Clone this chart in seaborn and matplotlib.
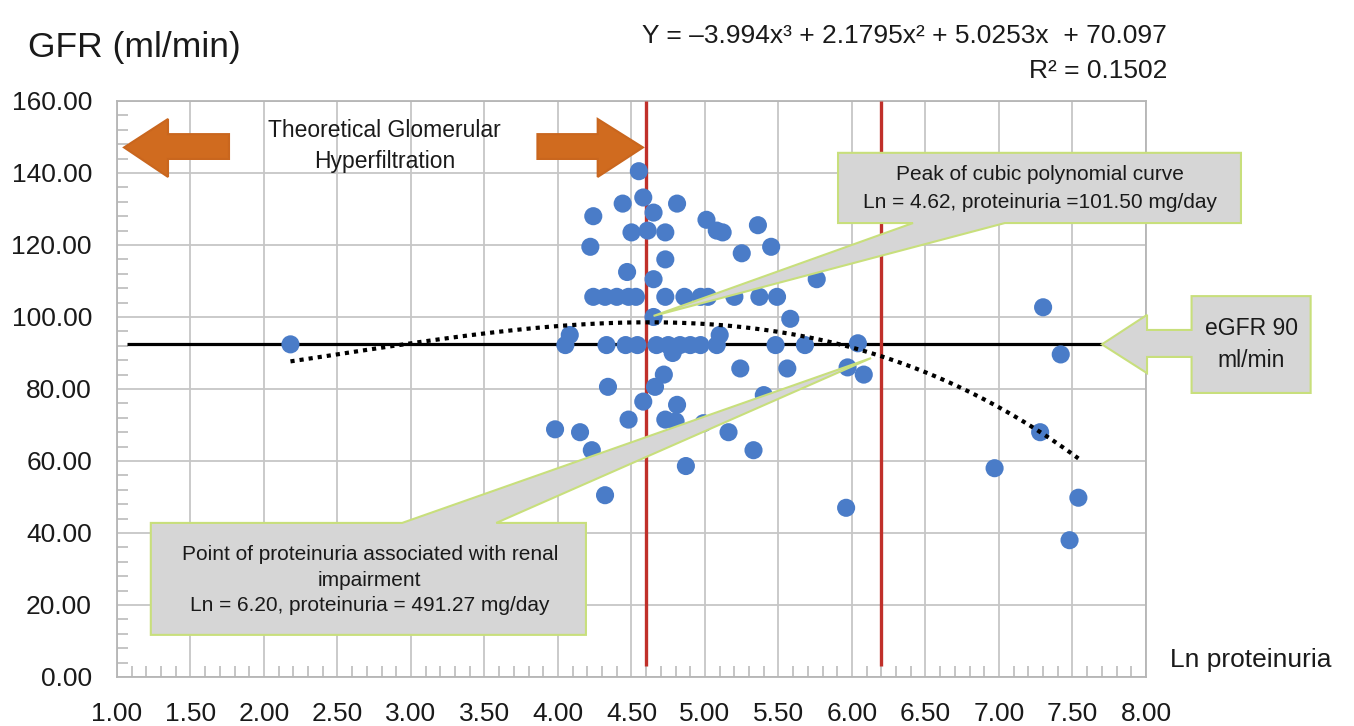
import numpy as np
import pandas as pd
import matplotlib
matplotlib.use("Agg")
import matplotlib.pyplot as plt
from matplotlib.patches import Polygon
import seaborn as sns

# ---- data ----
ln_proteinuria = [2.18, 3.98, 4.05, 4.08, 4.15, 4.22, 4.23, 4.24, 4.24, 4.32,
                  4.32, 4.33, 4.34, 4.40, 4.44, 4.46, 4.47, 4.48, 4.48, 4.50,
                  4.53, 4.54, 4.55, 4.58, 4.58, 4.61, 4.65, 4.65, 4.65, 4.66,
                  4.67, 4.72, 4.73, 4.73, 4.73, 4.73, 4.75, 4.78, 4.80, 4.81,
                  4.81, 4.83, 4.86, 4.87, 4.90, 4.97, 4.97, 4.99, 5.01, 5.02,
                  5.08, 5.08, 5.10, 5.12, 5.16, 5.20, 5.24, 5.25, 5.33, 5.36,
                  5.37, 5.40, 5.45, 5.48, 5.49, 5.56, 5.58, 5.68, 5.76, 5.96,
                  5.97, 6.04, 6.08, 6.97, 7.28, 7.30, 7.42, 7.48, 7.54]
gfr = [92.4, 68.8, 92.2, 95.0, 68.0, 119.5, 63.0, 128.0, 105.6, 50.5,
       105.6, 92.2, 80.6, 105.6, 131.5, 92.2, 112.5, 105.6, 71.5, 123.5,
       105.6, 92.2, 140.5, 133.2, 76.5, 124.0, 129.0, 110.5, 100.0, 80.6,
       92.2, 84.0, 123.5, 116.0, 105.6, 71.5, 92.2, 90.0, 71.0, 131.5,
       75.6, 92.2, 105.6, 58.6, 92.2, 92.2, 105.6, 70.5, 127.0, 105.6,
       92.2, 124.0, 95.0, 123.5, 68.0, 105.6, 85.7, 117.7, 63.0, 125.5,
       105.6, 78.3, 119.5, 92.2, 105.6, 85.7, 99.5, 92.2, 110.5, 47.0,
       86.0, 92.7, 84.0, 58.0, 68.0, 102.7, 89.6, 38.0, 49.8]

x_ticks = [1.00, 1.50, 2.00, 2.50, 3.00, 3.50, 4.00, 4.50, 5.00, 5.50, 6.00, 6.50, 7.00, 7.50, 8.00]
y_ticks = [0, 20, 40, 60, 80, 100, 120, 140, 160]

threshold_ln = [4.6, 6.2]          # red vertical lines
egfr_level = 92.4                  # black horizontal line
egfr_span = [1.07, 7.70]

equation = "Y = \u20133.994x\u00b3 + 2.1795x\u00b2 + 5.0253x  + 70.097"
r2_text = "R\u00b2 = 0.1502"
peak_text = "Peak of cubic polynomial curve\nLn = 4.62, proteinuria =101.50 mg/day"
renal_text = "Point of proteinuria associated with renal\nimpairment\nLn = 6.20, proteinuria = 491.27 mg/day"
egfr_text = "eGFR 90\nml/min"
hyper_text = "Theoretical Glomerular\nHyperfiltration"

# ---- style ----
sns.set_theme(style="white")
plt.rcParams['font.family'] = ['Liberation Sans', 'DejaVu Sans']

W, H = 1354, 726
fig = plt.figure(figsize=(W / 100, H / 100), dpi=100)
ax = fig.add_axes([117 / W, 1 - 677 / H, (1146 - 117) / W, (677 - 101) / H])

df = pd.DataFrame({"ln": ln_proteinuria, "gfr": gfr})

GRID = "#c6c6c6"
ax.set_xlim(1, 8)
ax.set_ylim(0, 160)
ax.set_xticks(x_ticks)
ax.set_xticklabels([f"{v:.2f}" for v in x_ticks])
ax.set_yticks(y_ticks)
ax.set_yticklabels([f"{v:.2f}" for v in y_ticks])
ax.set_xticks(np.arange(1, 8.001, 0.1), minor=True)
ax.set_yticks(np.arange(0, 160.001, 4), minor=True)
ax.grid(True, which="major", color=GRID, lw=1.3)
ax.tick_params(which="major", length=0, labelsize=19, colors="#1a1a1a")
ax.tick_params(axis="y", which="major", pad=18)
ax.tick_params(axis="x", which="major", pad=18)
ax.tick_params(which="minor", direction="in", length=8, width=1.1, color="#b5b5b5",
               bottom=True, left=True)
for s in ax.spines.values():
    s.set_color("#b5b5b5")
    s.set_linewidth(1.3)

# eGFR reference line and threshold lines
ax.hlines(egfr_level, egfr_span[0], egfr_span[1], color="black", lw=2.3, zorder=3)
ax.vlines(threshold_ln, 3, 160, color="#c0302a", lw=2.4, zorder=3)

# scatter
sns.scatterplot(data=df, x="ln", y="gfr", ax=ax, color="#4a7cc8", s=170,
                edgecolor="none", zorder=4, legend=False)

# cubic trendline
sns.regplot(data=df, x="ln", y="gfr", order=3, ci=None, scatter=False, ax=ax,
            line_kws=dict(color="black", lw=3, linestyle=(0, (1, 1.2)), zorder=5))
ax.set_xlabel("")
ax.set_ylabel("")

# ---- callouts ----
FILL = "#d6d6d6"
EDGE = "#c8df7c"

def shape(pts, fc, ec, z=6):
    p = Polygon(pts, closed=True, facecolor=fc, edgecolor=ec, lw=1.5,
                clip_on=False, zorder=z, joinstyle="miter")
    ax.add_patch(p)

# top callout (peak)
shape([(5.905, 145.6), (8.646, 145.6), (8.646, 126.1), (7.04, 126.1),
       (4.65, 100.3), (6.415, 126.1), (5.905, 126.1)], FILL, EDGE)
ax.text(7.28, 135.8, peak_text, ha="center", va="center", fontsize=15,
        linespacing=1.6, zorder=7, clip_on=False, color="#1a1a1a")

# bottom callout (renal impairment)
shape([(1.23, 42.8), (2.94, 42.8), (6.13, 88.6), (3.58, 42.8), (4.19, 42.8),
       (4.19, 11.7), (1.23, 11.7)], FILL, EDGE)
ax.text(2.72, 26.9, renal_text, ha="center", va="center", fontsize=15,
        linespacing=1.45, zorder=7, color="#1a1a1a")

# eGFR arrow callout
shape([(8.31, 105.8), (9.12, 105.8), (9.12, 78.9), (8.31, 78.9), (8.31, 88.9),
       (8.007, 88.9), (8.007, 84.4), (7.70, 92.4), (8.007, 100.6), (8.007, 96.4),
       (8.31, 96.4)], FILL, EDGE)
ax.text(8.715, 92.4, egfr_text, ha="center", va="center", fontsize=16.5,
        linespacing=1.5, zorder=7, clip_on=False, color="#1a1a1a")

# orange arrows
ORANGE = "#d06b1f"
shape([(1.048, 147.1), (1.347, 155.0), (1.347, 150.8), (1.762, 150.8),
       (1.762, 143.9), (1.347, 143.9), (1.347, 138.9)], ORANGE, "#c9661e")
shape([(4.578, 147.1), (4.27, 155.0), (4.27, 150.8), (3.86, 150.8),
       (3.86, 143.9), (4.27, 143.9), (4.27, 138.9)], ORANGE, "#c9661e")
ax.text(2.82, 147.5, hyper_text, ha="center", va="center", fontsize=16.5,
        linespacing=1.4, zorder=7, color="#1a1a1a")

# ---- outer texts ----
fig.text(28 / W, 1 - 48 / H, "GFR (ml/min)", ha="left", va="center", fontsize=25.5,
         color="#1a1a1a")
fig.text(1167 / W, 1 - 36 / H, equation, ha="right", va="center", fontsize=19,
         color="#1a1a1a")
fig.text(1167 / W, 1 - 71 / H, r2_text, ha="right", va="center", fontsize=19,
         color="#1a1a1a")
fig.text(1170 / W, 1 - 660 / H, "Ln proteinuria", ha="left", va="center", fontsize=19,
         color="#1a1a1a")

fig.savefig("out.png", dpi=100, facecolor="white")
